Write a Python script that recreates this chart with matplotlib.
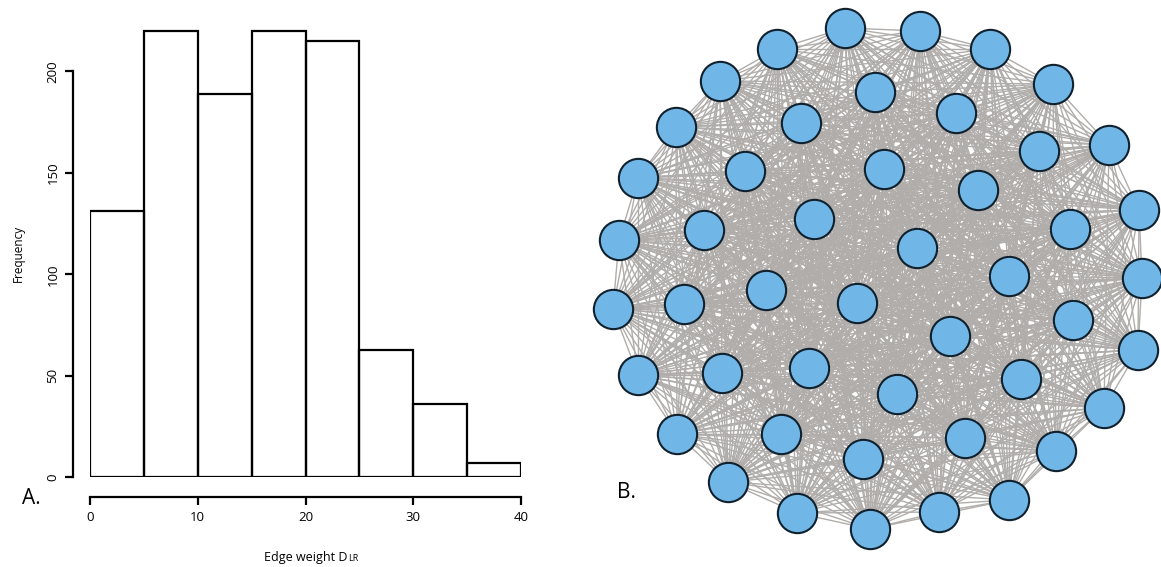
import numpy as np
import matplotlib
matplotlib.use("Agg")
import matplotlib.pyplot as plt
from matplotlib.collections import LineCollection
from itertools import combinations

plt.rcParams['font.family'] = ['Open Sans', 'DejaVu Sans']

# histogram of edge weights
bin_edges = [0, 5, 10, 15, 20, 25, 30, 35, 40]
counts = [131, 220, 189, 220, 215, 63, 36, 7]
x_ticks = [0, 10, 20, 30, 40]
y_ticks = [0, 50, 100, 150, 200]

# network node layout (image pixel coords)
node_x = [845, 920, 990, 1053, 1109, 1139, 1142, 1138, 1104, 1056, 1009, 939,
          870, 797, 728, 677, 638, 613, 619, 638, 676, 720, 777,
          875, 956, 801, 1039, 745, 884, 978, 814, 704, 1070, 917, 1009,
          684, 766, 857, 1073, 950, 722, 809, 1021, 897, 965, 781, 863]
node_y = [28, 31, 49, 84, 145, 210, 278, 350, 408, 451, 500, 512,
          529, 513, 482, 434, 375, 309, 240, 178, 127, 81, 49,
          92, 113, 123, 151, 171, 169, 190, 219, 230, 229, 248, 276,
          304, 290, 303, 320, 336, 373, 368, 379, 394, 438, 434, 459]

W, H = 1161, 567
fig = plt.figure(figsize=(W / 100, H / 100), dpi=100)
fig.patch.set_facecolor('white')

# ---- A. histogram ----
y_px = 2.03  # pixels per count
ax = fig.add_axes([90 / W, (H - 477.4) / H, 431 / W, 230 * y_px / H])
lefts = bin_edges[:-1]
widths = np.diff(bin_edges)
ax.bar(lefts, counts, width=widths, align='edge', fill=False,
       edgecolor='black', linewidth=1.6)
ax.set_xlim(0, 40)
ax.set_ylim(0, 230)
for s in ['top', 'right']:
    ax.spines[s].set_visible(False)
ax.spines['left'].set_position(('outward', 12))
ax.spines['bottom'].set_position(('outward', 14))
ax.spines['left'].set_bounds(0, 200)
ax.spines['bottom'].set_bounds(0, 40)
ax.spines['left'].set_linewidth(1.6)
ax.spines['bottom'].set_linewidth(1.6)
ax.set_xticks(x_ticks)
ax.set_yticks(y_ticks)
ax.set_yticklabels([str(v) for v in y_ticks], rotation=90, va='center')
ax.tick_params(axis='both', direction='out', length=6, width=1.6,
               labelsize=9.5, colors='black')
ax.tick_params(axis='y', pad=4)
ax.tick_params(axis='x', pad=4)
ax.set_facecolor('none')

fig.text(18 / W, 1 - 253 / H, 'Frequency', rotation=90, ha='center',
         va='center', fontsize=8.5)
t1 = fig.text(306 / W, 1 - 561 / H, 'Edge weight D', ha='center',
              va='baseline', fontsize=9)
ax.annotate('LR', xy=(1, 1 - 561 / H), xycoords=(t1, 'figure fraction'),
            ha='left', va='baseline', fontsize=6.5)
fig.text(22 / W, 1 - 499 / H, 'A.', ha='left', va='center', fontsize=15)

# ---- B. network ----
axn = fig.add_axes([580 / W, 0, (W - 580) / W, 1])
axn.set_xlim(580, W)
axn.set_ylim(H, 0)
axn.axis('off')

pts = np.column_stack([node_x, node_y])
segs = [[pts[i], pts[j]] for i, j in combinations(range(len(pts)), 2)]
lc = LineCollection(segs, colors='#b0adab', linewidths=1.0, zorder=1)
axn.add_collection(lc)
axn.scatter(node_x, node_y, s=800, c='#70b7e8', edgecolors='#10202c',
            linewidths=1.5, zorder=3)

fig.text(626 / W, 1 - 492 / H, 'B.', ha='center', va='center', fontsize=15)

fig.savefig('out.png', dpi=100, facecolor='white')
